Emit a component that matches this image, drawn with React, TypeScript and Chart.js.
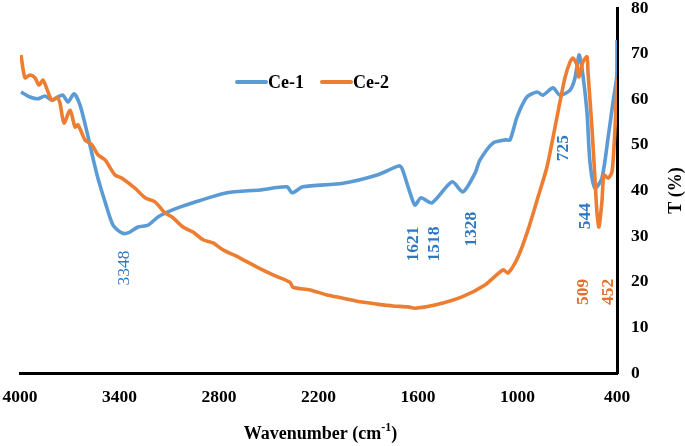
import React, { useEffect, useRef } from "react";
import { Chart, registerables } from "chart.js";

Chart.register(...registerables);

// ---- Data ----
const ce1Wavenumber = [
  3994, 3940, 3891, 3849, 3807, 3771, 3741, 3711, 3674, 3638, 3596, 3560, 3530, 3487, 3439, 3385, 3349,
  3288, 3228, 3168, 3083, 2957, 2752, 2553, 2390, 2360, 2294, 2052, 1847, 1715, 1697, 1648, 1618, 1582,
  1516, 1395, 1329, 1256, 1226, 1148, 1075, 1045, 1003, 943, 882, 846, 786, 744, 683, 653, 629, 611, 581,
  563, 533, 491, 454, 424, 401, 400,
];
const ce1Transmittance = [
  61.6, 60.5, 60.1, 60.7, 59.8, 60.5, 60.9, 59.4, 61.2, 58.7, 52.8, 47.1, 42.7, 37.5, 32.4, 30.7, 30.7,
  32.0, 32.4, 34.2, 35.7, 37.3, 39.5, 40.1, 40.8, 39.5, 40.8, 41.6, 43.4, 45.4, 44.9, 39.5, 36.8, 38.4,
  37.3, 41.9, 39.7, 43.8, 46.7, 50.4, 51.1, 51.1, 56.1, 60.5, 61.6, 60.9, 62.5, 60.9, 62.0, 64.7, 69.7,
  66.8, 57.2, 46.2, 40.5, 42.7, 51.5, 59.4, 65.3, 73.0,
];

const ce2Wavenumber = [
  3994, 3970, 3940, 3910, 3885, 3861, 3831, 3807, 3777, 3759, 3735, 3698, 3668, 3650, 3608, 3566, 3530,
  3487, 3427, 3385, 3307, 3246, 3186, 3126, 3083, 3017, 2957, 2896, 2836, 2776, 2673, 2571, 2474, 2372,
  2354, 2251, 2149, 2052, 1950, 1847, 1751, 1660, 1618, 1498, 1335, 1196, 1087, 1057, 997, 937, 876, 822,
  756, 714, 683, 665, 641, 629, 605, 581, 575, 551, 533, 521, 509, 491, 479, 454, 430, 412, 400,
];
const ce2Transmittance = [
  69.7, 64.7, 65.3, 64.7, 63.1, 64.2, 61.6, 59.8, 60.3, 59.2, 54.8, 57.6, 53.9, 54.4, 51.1, 50.0, 47.8,
  46.7, 43.4, 42.7, 40.5, 38.4, 37.5, 35.1, 34.2, 32.0, 30.9, 29.2, 28.5, 27.0, 25.2, 23.2, 21.5, 19.9,
  18.8, 18.2, 17.1, 16.4, 15.6, 15.1, 14.7, 14.5, 14.2, 14.9, 16.7, 19.3, 22.6, 21.9, 25.4, 31.3, 38.6, 45.2,
  57.2, 64.7, 68.2, 69.0, 67.5, 64.9, 68.2, 69.3, 66.0, 53.7, 42.7, 35.3, 32.0, 37.5, 43.4, 42.7, 44.1, 53.7,
  64.7,
];

const seriesNames = ["Ce-1", "Ce-2"];
const xTicks = [4000, 3400, 2800, 2200, 1600, 1000, 400];
const yTicks = [0, 10, 20, 30, 40, 50, 60, 70, 80];

// peak annotations: label text, anchor wavenumber, anchor T value, series index
const peakLabels = ["3348", "1621", "1518", "1328", "725", "544", "509", "452"];
const peakAnchorWn = [3373, 1625, 1498, 1280, 725, 593, 605, 452];
const peakAnchorT = [23, 28.3, 28.3, 31.5, 49.3, 34.4, 17.8, 17.8];
const peakSeries = [0, 0, 0, 0, 0, 0, 1, 1];
const peakBold = [false, true, true, true, true, true, true, true];

const LINE_COLORS = ["#5B9BD5", "#ED7D31"];
const LABEL_COLORS = ["#2E78C2", "#E2712C"];
const FONT = "'Liberation Serif', 'Times New Roman', serif";

const overlayPlugin = {
  id: "overlay",
  afterDatasetsDraw(chart: any) {
    const { ctx, scales } = chart;
    const x = scales.x;
    const y = scales.y;
    ctx.save();
    // peak labels (rotated)
    peakLabels.forEach((lbl, i) => {
      const px = x.getPixelForValue(peakAnchorWn[i]);
      const py = y.getPixelForValue(peakAnchorT[i]);
      ctx.save();
      ctx.translate(px, py);
      ctx.rotate(-Math.PI / 2);
      ctx.font = `${peakBold[i] ? "bold " : ""}17.5px ${FONT}`;
      ctx.fillStyle = LABEL_COLORS[peakSeries[i]];
      ctx.textAlign = "center";
      ctx.textBaseline = "middle";
      ctx.fillText(lbl, 0, 0);
      ctx.restore();
    });

    // legend
    const legendY = 82;
    const legendStarts = [237, 322];
    ctx.font = `bold 18px ${FONT}`;
    ctx.textBaseline = "middle";
    ctx.textAlign = "left";
    seriesNames.forEach((name, i) => {
      const lx = legendStarts[i];
      ctx.strokeStyle = LINE_COLORS[i];
      ctx.lineWidth = 4;
      ctx.lineCap = "round";
      ctx.beginPath();
      ctx.moveTo(lx, legendY);
      ctx.lineTo(lx + 29, legendY);
      ctx.stroke();
      ctx.fillStyle = "#000";
      ctx.fillText(name, lx + 31, legendY + 1);
    });

    // y-axis title (reads bottom to top)
    ctx.save();
    ctx.translate(676, (chart.chartArea.top + chart.chartArea.bottom) / 2);
    ctx.rotate(-Math.PI / 2);
    ctx.font = `bold 18px ${FONT}`;
    ctx.fillStyle = "#000";
    ctx.textAlign = "center";
    ctx.textBaseline = "middle";
    ctx.fillText("T (%)", 0, 0);
    ctx.restore();

    // x-axis title with superscript
    const cx = (chart.chartArea.left + chart.chartArea.right) / 2 + 2;
    const ty = 434;
    const mainFont = `bold 18px ${FONT}`;
    const supFont = `bold 12px ${FONT}`;
    const p1 = "Wavenumber (cm";
    const p2 = "-1";
    const p3 = ")";
    ctx.font = mainFont;
    const w1 = ctx.measureText(p1).width;
    const w3 = ctx.measureText(p3).width;
    ctx.font = supFont;
    const w2 = ctx.measureText(p2).width;
    let sx = cx - (w1 + w2 + w3) / 2;
    ctx.fillStyle = "#000";
    ctx.textAlign = "left";
    ctx.textBaseline = "middle";
    ctx.font = mainFont;
    ctx.fillText(p1, sx, ty);
    sx += w1;
    ctx.font = supFont;
    ctx.fillText(p2, sx, ty - 6);
    sx += w2;
    ctx.font = mainFont;
    ctx.fillText(p3, sx, ty);
    ctx.restore();
  },
};

export default function App() {
  const canvasRef = useRef<HTMLCanvasElement | null>(null);

  useEffect(() => {
    if (!canvasRef.current) return;
    const toPoints = (xs: number[], ys: number[]) => xs.map((v, i) => ({ x: v, y: ys[i] }));
    const chart = new Chart(canvasRef.current, {
      type: "line",
      data: {
        datasets: [
          {
            label: seriesNames[0],
            data: toPoints(ce1Wavenumber, ce1Transmittance),
            borderColor: LINE_COLORS[0],
            borderWidth: 3.6,
            pointRadius: 0,
            tension: 0.25,
            fill: false,
            order: 1,
          },
          {
            label: seriesNames[1],
            data: toPoints(ce2Wavenumber, ce2Transmittance),
            borderColor: LINE_COLORS[1],
            borderWidth: 3.6,
            pointRadius: 0,
            tension: 0.25,
            fill: false,
            order: 0,
          },
        ],
      },
      options: {
        animation: false,
        responsive: false,
        maintainAspectRatio: false,
        layout: { padding: { left: 20, top: 8, right: 0, bottom: 0 } },
        plugins: {
          legend: { display: false },
          tooltip: { enabled: false },
          title: { display: false },
        },
        scales: {
          x: {
            type: "linear",
            reverse: true,
            min: 400,
            max: 4000,
            afterBuildTicks: (scale: any) => {
              scale.ticks = xTicks.map((v) => ({ value: v }));
            },
            afterFit: (scale: any) => {
              scale.height = 73;
              scale.paddingLeft = 0;
              scale.paddingRight = 0;
            },
            grid: { display: false, drawTicks: false },
            border: { display: true, color: "#000", width: 3 },
            ticks: {
              padding: 14,
              color: "#000",
              maxRotation: 0,
              autoSkip: false,
              callback: (v: any) => String(v),
              font: { family: FONT, size: 17.5, weight: "bold" },
            },
          },
          y: {
            position: "right",
            min: 0,
            max: 80,
            afterBuildTicks: (scale: any) => {
              scale.ticks = yTicks.map((v) => ({ value: v }));
            },
            afterFit: (scale: any) => {
              scale.width = 68;
              scale.paddingTop = 0;
              scale.paddingBottom = 0;
            },
            grid: { display: false, drawTicks: false },
            border: { display: true, color: "#000", width: 3 },
            ticks: {
              padding: 14,
              color: "#000",
              autoSkip: false,
              callback: (v: any) => String(v),
              font: { family: FONT, size: 17.5, weight: "bold" },
            },
          },
        },
      },
      plugins: [overlayPlugin],
    } as any);
    return () => chart.destroy();
  }, []);

  return (
    <div style={{ position: "absolute", left: 0, top: 0, width: 685, height: 446, background: "#fff" }}>
      <canvas ref={canvasRef} width={685} height={446} style={{ width: 685, height: 446 }} />
    </div>
  );
}
